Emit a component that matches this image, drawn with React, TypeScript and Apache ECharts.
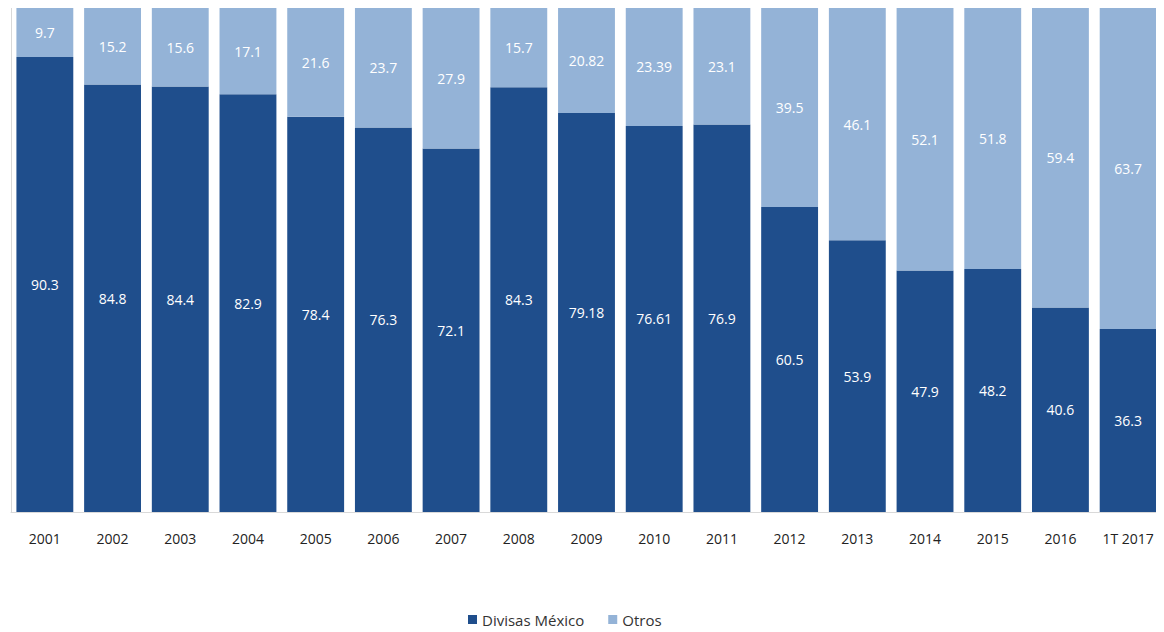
import React, { useEffect, useRef } from "react";
import * as echarts from "echarts";

const categories = ["2001", "2002", "2003", "2004", "2005", "2006", "2007", "2008", "2009", "2010", "2011", "2012", "2013", "2014", "2015", "2016", "1T 2017"];
const divisasMexico = [90.3, 84.8, 84.4, 82.9, 78.4, 76.3, 72.1, 84.3, 79.18, 76.61, 76.9, 60.5, 53.9, 47.9, 48.2, 40.6, 36.3];
const otros = [9.7, 15.2, 15.6, 17.1, 21.6, 23.7, 27.9, 15.7, 20.82, 23.39, 23.1, 39.5, 46.1, 52.1, 51.8, 59.4, 63.7];

export default function App() {
  const ref = useRef<HTMLDivElement>(null);
  useEffect(() => {
    if (!ref.current) return;
    const chart = echarts.init(ref.current, null, { renderer: "svg" });
    const font = "'Open Sans', 'DejaVu Sans', sans-serif";
    const label = {
      show: true,
      position: "inside",
      color: "#ffffff",
      fontSize: 14,
      fontFamily: font,
    };
    chart.setOption({
      animation: false,
      backgroundColor: "#ffffff",
      grid: { left: 3, right: 2, top: 0, bottom: 120 },
      legend: {
        bottom: 0,
        left: 455,
        itemWidth: 9,
        itemHeight: 9,
        itemGap: 24,
        icon: "rect",
        textStyle: { color: "#333", fontSize: 15, fontFamily: font },
        data: ["Divisas México", "Otros"],
      },
      xAxis: {
        type: "category",
        data: categories,
        axisLine: { show: true, lineStyle: { color: "#d9d9d9" } },
        axisTick: { show: false },
        axisLabel: { color: "#222", fontSize: 14, fontFamily: font, margin: 19 },
      },
      yAxis: {
        type: "value",
        min: 0,
        max: 100,
        show: true,
        axisLine: { show: true, lineStyle: { color: "#d9d9d9" } },
        axisLabel: { show: false },
        axisTick: { show: false },
        splitLine: { show: false },
      },
      series: [
        {
          name: "Divisas México",
          type: "bar",
          stack: "total",
          barCategoryGap: "16%",
          data: divisasMexico,
          itemStyle: { color: "#1f4e8c" },
          label,
        },
        {
          name: "Otros",
          type: "bar",
          stack: "total",
          barCategoryGap: "16%",
          data: otros,
          itemStyle: { color: "#94b3d7" },
          label,
        },
      ],
    });
    return () => chart.dispose();
  }, []);
  return <div ref={ref} style={{ width: 1156, height: 624 }} />;
}
